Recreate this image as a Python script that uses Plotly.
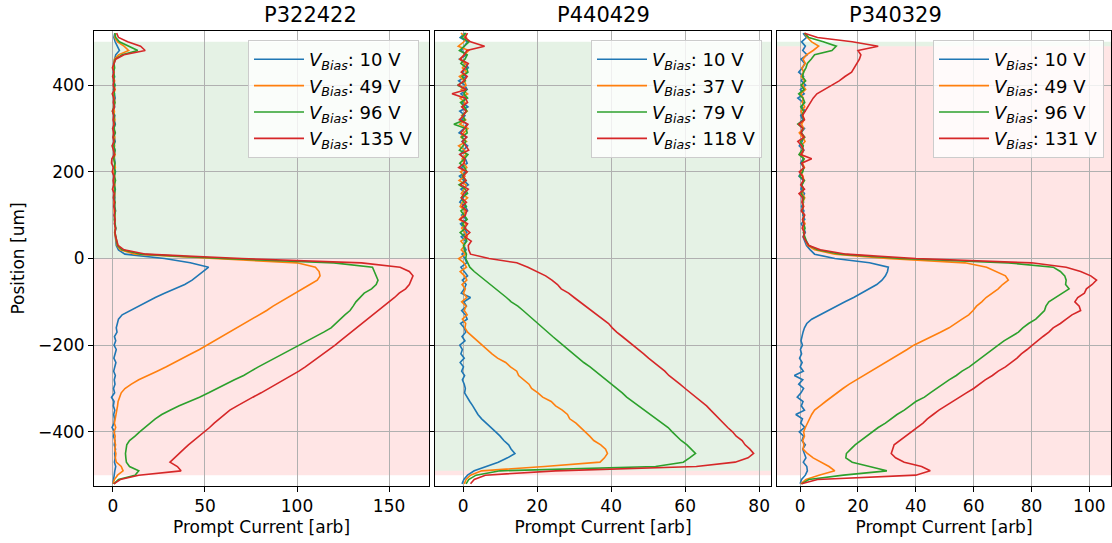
import plotly.graph_objects as go
from plotly.subplots import make_subplots

# ---------------- data ----------------
position_um = [
    520, 510, 500, 490, 480, 470, 460, 450, 440, 430,
    420, 410, 400, 390, 380, 370, 360, 350, 340, 330,
    320, 310, 300, 290, 280, 270, 260, 250, 240, 230,
    220, 210, 200, 190, 180, 170, 160, 150, 140, 130,
    120, 110, 100, 90, 80, 70, 60, 50, 40, 30,
    20, 10, 0, -10, -20, -30, -40, -50, -60, -70,
    -80, -90, -100, -110, -120, -130, -140, -150, -160, -170,
    -180, -190, -200, -210, -220, -230, -240, -250, -260, -270,
    -280, -290, -300, -310, -320, -330, -340, -350, -360, -370,
    -380, -390, -400, -410, -420, -430, -440, -450, -460, -470,
    -480, -490, -500, -510, -520,
]

sensors = ["P322422", "P440429", "P340329"]
bias_p322422 = [10, 49, 96, 135]
bias_p440429 = [10, 37, 79, 118]
bias_p340329 = [10, 49, 96, 131]

# P322422
p322422_10v = [
    1.0, 0.5, 1.2, 2.5, 3.5, 1.5, 0.8, 0.3, 0.6, 0.2,
    0.9, 0.4, 1.1, 0.3, 0.8, 1.2, 0.5, 0.9, 0.2, 1.0,
    0.6, 1.3, 0.4, 0.9, 0.7, 1.2, 0.3, 1.1, 0.5, 0.8,
    1.2, 0.6, 1.4, 0.5, 1.0, 0.7, 1.3, 0.8, 1.1, 0.6,
    1.0, 1.4, 0.7, 1.2, 0.9, 1.5, 1.1, 1.3, 1.6, 1.8,
    3.0, 6.5, 28, 42, 52, 49, 46, 43, 39, 33,
    28, 23, 18.5, 14, 9, 5, 3, 2.5, 1.8, 2.2,
    0.8, 1.5, 0.6, 1.8, 1.2, 0.5, 1.6, 1.0, 0.4, 1.3,
    0.7, 1.1, 0.3, 0.9, -0.8, 0.6, 0.2, 1.0, 0.4, 0.8,
    0.6, -0.5, 0.9, 0.3, 1.1, 0.7, 1.4, 0.9, 1.2, 0.8,
    1.5, 1.0, 0.8, 0.3, 0.0,
]
p322422_49v = [
    1.5, 1.0, 2.5, 6.0, 8.5, 3.0, 0.8, 0.5, 0.2, 0.6,
    0.3, 0.9, 0.5, 1.2, 0.4, 0.7, 1.0, 0.3, 0.8, 0.5,
    1.1, 0.4, 0.8, 0.2, 1.0, 0.6, 0.9, 0.3, 1.2, 0.5,
    0.7, 1.3, 0.5, 0.9, 0.4, 1.1, 0.6, 1.0, 0.8, 0.5,
    0.9, 0.6, 1.2, 0.8, 1.0, 1.3, 0.9, 1.4, 1.7, 2.2,
    4.0, 12, 55, 100, 110, 112, 112.5, 111, 107, 103,
    98.5, 95, 91, 87, 83.5, 79.5, 75.5, 71.5, 67, 63,
    59, 55, 51, 47, 42.5, 38, 34, 29, 24, 19,
    14, 10, 6.5, 4.5, 3.5, 2.8, 2.5, 2.0, 1.8, 1.2,
    0.8, 1.5, 0.6, 1.2, 0.9, 1.4, 1.0, 1.6, 1.3, 1.8,
    4.5, 5.5, 2.5, 0.8, 0.0,
]
p322422_96v = [
    1.0, 1.5, 3.5, 9.0, 13.5, 5.0, 1.2, 0.6, 0.9, 0.3,
    0.7, 0.2, 1.0, 0.5, 0.8, 0.3, 1.1, 0.6, -0.3, 0.8,
    0.4, 1.0, 0.6, 1.3, 0.2, 0.9, 0.5, 1.1, 0.7, 0.4,
    1.0, 0.6, 1.2, 0.8, 1.4, 0.7, 1.1, 0.9, 0.6, 1.2,
    0.8, 1.3, 1.0, 0.7, 1.2, 1.5, 1.1, 1.6, 2.0, 2.5,
    5.0, 15, 60, 120, 141, 142, 143, 144, 143, 140.5,
    136.5, 134, 132, 130.5, 128.8, 126, 123.5, 121, 118.5, 114.5,
    110, 106, 101.6, 97, 92.5, 88, 83.5, 79, 75, 71,
    66, 61.5, 57, 52, 47, 41, 36, 31, 26.5, 23,
    20, 17, 14.5, 12, 9, 7.5, 7.2, 6.8, 7.0, 7.3,
    9, 14, 12, 3, 0.5,
]
p322422_135v = [
    2.0, 3.0, 8.0, 15.0, 17.5, 6.0, 1.5, 0.4, -0.3, 0.5,
    -0.2, 0.6, 0.1, 0.9, -0.4, 0.5, 0.2, 0.8, -0.3, 0.4,
    0.1, 0.7, -0.2, 0.5, 0.0, 0.6, -0.5, 0.3, 0.8, -0.6,
    -0.8, 0.2, -0.4, 0.6, 0.1, 0.5, -0.3, 0.7, 0.2, 0.9,
    0.4, 1.0, 0.6, 1.2, 0.8, 1.4, 1.1, 1.5, 2.0, 2.8,
    6, 18, 70, 135, 156, 161, 163, 162, 161, 159,
    155.5, 153, 150, 147, 144, 141, 138, 135, 132, 129,
    126.5, 123.5, 120.7, 117.5, 114.5, 111.5, 108, 104.5, 101, 97,
    93, 89, 85, 80.5, 76, 71.5, 67.5, 63.5, 60.5, 58,
    55, 52.5, 49.5, 47, 44, 41, 38.5, 36, 33, 31,
    35, 37, 14, 4, 0.5,
]

# P440429
p440429_10v = [
    0.5, -0.8, 1.2, 0.3, -0.5, 0.9, -1.0, 0.6, 1.4, -0.3,
    0.8, -1.2, 0.4, 1.1, -0.6, 0.7, -0.2, 1.3, -0.9, 0.5,
    -0.4, 1.0, 0.2, -1.1, 0.9, -0.3, 1.2, 0.1, -0.8, 0.6,
    1.1, -0.5, 0.7, -1.0, 0.3, 1.4, -0.6, 0.8, 0.0, -0.9,
    0.6, 1.2, -0.4, 0.9, -0.7, 0.3, 1.0, -0.5, 0.7, 0.2,
    0.8, -0.3, 0.5, 1.0, -0.6, 0.4, 1.2, -0.2, 0.8, 0.3,
    -0.5, 2.0, 0.2, 0.9, -0.4, 0.6, 1.1, -0.7, 0.3, 0.7,
    -0.3, 0.5, -0.9, -0.2, -0.6, 0.3, -0.8, 0.1, -0.4, 0.4,
    -0.2, 0.3, 0.6, 0.4, 1.0, 1.8, 2.6, 3.2, 4.0, 5.0,
    6.3, 7.8, 8.8, 10.0, 11.0, 12.3, 13.0, 14.0, 12.0, 9.5,
    6.3, 3.0, 1.2, 0.2, -0.3,
]
p440429_37v = [
    -0.6, 0.9, 0.2, -1.3, 1.5, 0.4, -0.9, 0.7, -0.2, 1.0,
    -1.0, 0.3, 0.8, -0.5, 1.2, -0.8, 0.5, 0.0, 1.1, -0.4,
    0.7, -0.9, 1.3, 0.2, -0.6, 0.9, -1.2, 0.4, 0.8, -0.3,
    0.2, 1.0, -0.7, 0.5, -1.1, 0.8, 0.3, -0.5, 1.2, -0.2,
    -0.8, 0.6, 0.1, -1.0, 0.9, -0.4, 0.5, 1.1, -0.6, 0.4,
    -0.5, 0.7, -1.2, 0.2, 0.9, -0.8, 0.4, 1.0, -0.3, 0.6,
    0.1, 1.0, -0.4, 0.8, 0.3, 1.1, -0.2, 0.7, 0.5, 1.2,
    2.5, 3.8, 5.0, 6.5, 7.8, 9.3, 11.5, 12.8, 14.5, 15.0,
    16.3, 17.8, 18.5, 20.2, 21.5, 23.8, 25.0, 26.8, 28.2, 28.8,
    30.5, 31.8, 33.0, 34.2, 35.3, 37.2, 38.5, 39.0, 38.2, 37.0,
    22.0, 5.0, 2.0, 0.8, 0.3,
]
p440429_79v = [
    0.8, -0.4, 1.6, 0.2, -1.0, 1.1, 0.5, -0.6, 0.9, 1.3,
    -0.3, 0.6, -1.5, 0.9, 0.2, 1.2, -0.7, 0.4, 1.0, -0.2,
    0.5, -2.5, 0.8, 1.1, -0.4, 0.7, 0.0, -1.0, 1.3, 0.3,
    -0.9, 0.4, 1.0, -0.3, 0.8, -1.1, 0.6, 1.2, -0.5, 0.2,
    0.9, -0.6, 0.3, 1.1, -0.2, 0.7, -0.8, 0.5, 1.0, 0.1,
    0.4, 0.9, 0.7, 1.2, 1.8, 3.0, 4.5, 6.0, 7.5, 8.9,
    10.3, 11.7, 13.0, 14.8, 16.2, 17.5, 19.0, 20.3, 21.3, 22.8,
    24.2, 25.6, 27.0, 28.3, 30.0, 31.4, 32.6, 34.3, 35.8, 37.2,
    38.6, 40.0, 41.6, 43.0, 44.2, 45.8, 47.2, 48.9, 50.3, 52.0,
    53.6, 55.4, 56.5, 57.8, 58.9, 60.5, 61.8, 62.8, 61.2, 59.5,
    52.0, 10.0, 3.5, 1.5, 0.8,
]
p440429_118v = [
    1.2, 0.5, 2.0, 5.8, 1.0, 0.3, -0.8, 1.4, 0.6, -0.5,
    1.1, 0.2, -1.3, 0.9, -3.0, 0.6, 1.2, -0.4, 0.8, 0.1,
    -1.0, 1.3, 0.4, -0.6, 1.0, -0.2, 0.7, 1.5, -0.9, 0.5,
    0.3, -1.2, 1.1, 0.0, 0.8, -0.7, 1.4, 0.2, -0.5, 0.9,
    -0.3, 1.0, 0.6, -0.8, 1.2, 0.4, 1.8, 0.5, 2.2, 1.4,
    1.5, 2.0, 7.0, 14.5, 17.5, 20.0, 22.3, 24.0, 25.5, 26.5,
    28.5, 30.0, 31.5, 33.0, 34.5, 36.2, 37.8, 39.3, 40.3, 41.5,
    43.0, 44.5, 45.9, 47.3, 48.8, 50.1, 51.6, 53.0, 54.5, 55.6,
    57.2, 58.6, 60.0, 61.5, 62.8, 64.4, 65.8, 66.9, 68.0, 69.1,
    70.3, 71.5, 72.8, 73.8, 75.4, 76.2, 77.5, 78.5, 77.0, 73.5,
    63.0, 25.0, 6.0, 3.0, 2.0,
]

# P340329
p340329_10v = [
    1.0, 2.2, 0.5, 1.8, 0.9, 2.4, 0.3, 1.6, 0.8, -0.5,
    1.2, 0.4, 1.9, 0.1, 1.4, -0.8, 1.1, 0.6, 1.7, 0.2,
    0.9, -0.6, 1.5, 0.3, 1.2, 0.7, -0.3, 1.3, 0.5, 1.0,
    0.2, 1.4, 0.6, -0.4, 1.1, 0.8, 0.3, 1.5, 0.7, 1.2,
    0.5, 1.3, 0.9, 1.6, 0.4, 1.2, 1.8, 1.0, 1.5, 2.2,
    3.5, 5.0, 12.0, 24.0, 30.5, 30.2, 29.5, 28.3, 26.5, 24.0,
    21.2, 18.5, 15.5, 12.5, 9.5, 6.5, 4.0, 2.3, 1.5, 1.0,
    0.6, 0.3, 0.8, 0.1, 0.5, -0.2, 0.7, 0.0, 1.1, -2.0,
    0.9, -0.5, 1.2, 0.3, -1.0, 1.0, 0.4, 1.5, -1.5, 0.8,
    0.2, 1.6, -0.3, 1.2, 0.6, 1.8, 0.9, 1.4, 2.0, 1.1,
    2.3, 2.5, 1.8, 0.5, 0.0,
]
p340329_49v = [
    1.5, 2.5, 4.0, 6.4, 4.5, 2.2, 1.0, 1.8, 0.6, 1.2,
    0.4, 1.5, 0.8, 1.9, 0.2, 1.1, 0.7, 1.6, 0.3, 1.0,
    1.4, 0.5, 1.2, -0.3, 0.9, 1.7, 0.4, 1.1, 0.6, 1.3,
    0.8, 1.5, 0.2, 1.0, 1.3, 0.5, 1.2, 0.7, 1.6, 0.9,
    1.2, 0.6, 1.4, 1.0, 1.7, 0.9, 1.5, 1.3, 2.0, 2.6,
    5.0, 12.0, 30.0, 57.0, 64.5, 68.0, 71.0, 72.0, 70.0, 68.5,
    66.2, 64.3, 62.8, 61.0, 59.8, 58.3, 56.0, 53.7, 51.5, 48.5,
    45.5, 42.5, 39.3, 37.0, 34.5, 32.0, 29.5, 27.0, 24.3, 21.5,
    19.0, 17.0, 14.8, 12.7, 10.5, 8.8, 6.9, 5.0, 4.0, 3.2,
    2.5, 1.8, 1.2, 1.5, 0.9, 1.3, 1.0, 2.5, 4.5, 7.5,
    10.0, 12.0, 6.5, 2.0, 0.2,
]
p340329_96v = [
    1.5, 3.0, 8.0, 12.5, 11.0, 5.0, 3.8, 2.5, 2.0, 1.2,
    0.8, 1.9, 0.3, 1.4, -0.5, 1.0, 1.6, 0.2, 1.2, 0.7,
    1.3, -0.8, 1.0, 0.4, 1.6, 0.1, 1.1, 0.6, -0.4, 1.4,
    0.5, 1.2, 0.9, -0.2, 1.5, 0.6, 1.1, 0.3, 1.3, 0.8,
    1.0, 0.6, 1.4, 0.9, 1.2, 1.7, 1.1, 1.6, 2.2, 3.0,
    6.0, 14.0, 35.0, 72.0, 87.5, 90.0, 91.5, 92.0, 91.8, 93.0,
    90.5, 88.0, 86.0, 85.0, 84.5, 83.0, 81.5, 79.0, 77.0, 75.5,
    73.0, 70.5, 68.5, 66.5, 64.5, 62.5, 60.5, 58.5, 56.0, 54.0,
    51.5, 49.2, 47.0, 45.0, 43.0, 40.0, 38.0, 36.0, 33.5, 31.5,
    29.5, 27.0, 25.0, 23.0, 21.0, 19.0, 17.5, 16.0, 15.8, 18.0,
    24.0, 30.0, 15.0, 3.0, 0.5,
]
p340329_131v = [
    1.5, 6.0, 18.0, 27.0, 20.0, 21.0, 20.5, 19.5, 18.5, 17.8,
    15.5, 13.5, 11.0, 8.5, 5.8, 4.5, 3.5, 2.5, 1.8, 0.8,
    1.5, -0.5, 0.9, 0.3, 1.4, -0.8, 0.6, 1.2, 0.2, 4.0,
    0.5, 1.3, -0.3, 0.8, 1.1, 0.2, 1.5, -0.4, 0.9, 0.6,
    1.2, 0.4, 1.6, 0.8, 1.3, 0.7, 1.5, 1.1, 2.0, 3.0,
    7.0, 16.0, 40.0, 80.0, 92.0, 97.0, 100.5, 102.5, 101.0, 99.0,
    98.3, 96.0, 95.0, 96.5, 97.0, 94.0, 92.0, 90.0, 87.5, 86.0,
    84.0, 82.0, 80.3, 78.5, 76.5, 75.0, 73.2, 71.0, 68.5, 66.5,
    64.0, 62.0, 60.0, 57.5, 55.0, 52.5, 50.0, 48.0, 46.0, 44.0,
    42.5, 40.5, 38.5, 36.5, 34.5, 32.5, 32.0, 31.5, 33.0, 36.0,
    42.0, 45.0, 40.0, 6.0, 0.5,
]

# shaded regions per sensor (y ranges in um)
green_regions = [(0, 500), (-490, 500), (490, 500)]
red_regions = [(-500, 0), (-500, -490), (-500, 490)]

x_ranges = [[-10.3, 171.7], [-7.6, 83.2], [-8.0, 107.5]]
x_ticks = [[0, 50, 100, 150], [0, 20, 40, 60, 80], [0, 20, 40, 60, 80, 100]]
y_ticks = [-400, -200, 0, 200, 400]

all_series = [
    (bias_p322422, [p322422_10v, p322422_49v, p322422_96v, p322422_135v]),
    (bias_p440429, [p440429_10v, p440429_37v, p440429_79v, p440429_118v]),
    (bias_p340329, [p340329_10v, p340329_49v, p340329_96v, p340329_131v]),
]
for _, ss in all_series:
    for s in ss:
        assert len(s) == len(position_um), len(s)

colors = ["#1f77b4", "#ff7f0e", "#2ca02c", "#d62728"]
FONT = "DejaVu Sans"

# ---------------- figure ----------------
W, H = 1112, 543
ml, mr, mt, mb = 94, 1, 31, 57
pw = W - ml - mr
ph = H - mt - mb
px_domains = [(94, 429), (435, 771), (777, 1111)]
domains = [((a - ml) / pw, (b - ml) / pw) for a, b in px_domains]

fig = make_subplots(rows=1, cols=3, shared_yaxes=True, horizontal_spacing=0.0)

legend_names = ["legend", "legend2", "legend3"]
legend_right_px = [419, 762, 1104]

for i, (biases, series) in enumerate(all_series):
    for j, (v, vals) in enumerate(zip(biases, series)):
        fig.add_trace(
            go.Scatter(
                x=vals, y=position_um, mode="lines",
                line=dict(color=colors[j], width=1.6),
                name=f"<i>V</i><sub><i>Bias</i></sub>: {v} V",
                legend=legend_names[i],
            ),
            row=1, col=i + 1,
        )
    xa = "x" if i == 0 else f"x{i+1}"
    ya = "y" if i == 0 else f"y{i+1}"
    g0, g1 = green_regions[i]
    r0, r1 = red_regions[i]
    fig.add_shape(type="rect", xref=f"{xa} domain", yref=ya, x0=0, x1=1, y0=g0, y1=g1,
                  fillcolor="rgba(0,128,0,0.1)", line_width=0, layer="below")
    fig.add_shape(type="rect", xref=f"{xa} domain", yref=ya, x0=0, x1=1, y0=r0, y1=r1,
                  fillcolor="rgba(255,0,0,0.1)", line_width=0, layer="below")

    axis_common = dict(
        showline=True, linecolor="black", linewidth=1, mirror=True,
        ticks="outside", ticklen=5, tickwidth=1, tickcolor="black",
        showgrid=True, gridcolor="#b0b0b0", gridwidth=0.8,
        zeroline=False, tickfont=dict(family=FONT, size=17, color="black"),
    )
    fig.update_xaxes(
        domain=list(domains[i]), range=x_ranges[i], tickvals=x_ticks[i],
        title=dict(text="Prompt Current [arb]", font=dict(family=FONT, size=17, color="black"), standoff=5),
        row=1, col=i + 1, **axis_common,
    )
    fig.update_yaxes(range=[-525, 525], tickvals=y_ticks, row=1, col=i + 1, **axis_common)

    # subplot title
    fig.add_annotation(
        text=sensors[i], xref="paper", yref="paper",
        x=(domains[i][0] + domains[i][1]) / 2, y=1, yanchor="bottom", yshift=2,
        showarrow=False, font=dict(family=FONT, size=21, color="black"),
    )

fig.update_yaxes(
    title=dict(text="Position [um]", font=dict(family=FONT, size=17, color="black"), standoff=8),
    row=1, col=1,
)

legend_layout = {}
for i, name in enumerate(legend_names):
    legend_layout[name] = dict(
        x=(legend_right_px[i] - ml) / pw, xanchor="right",
        y=(mt + ph - 40) / ph, yanchor="top",
        bgcolor="rgba(255,255,255,0.8)", bordercolor="#cccccc", borderwidth=1,
        font=dict(family=FONT, size=18, color="black"),
        itemwidth=50,
    )

fig.update_layout(
    width=W, height=H,
    margin=dict(l=ml, r=mr, t=mt, b=mb, autoexpand=False),
    plot_bgcolor="white", paper_bgcolor="white",
    font=dict(family=FONT, size=17, color="black"),
    showlegend=True,
    **legend_layout,
)

fig.write_html(
    "out.html",
    config={"displayModeBar": False},
    post_script="document.body.style.margin='0';document.body.style.padding='0';",
)
